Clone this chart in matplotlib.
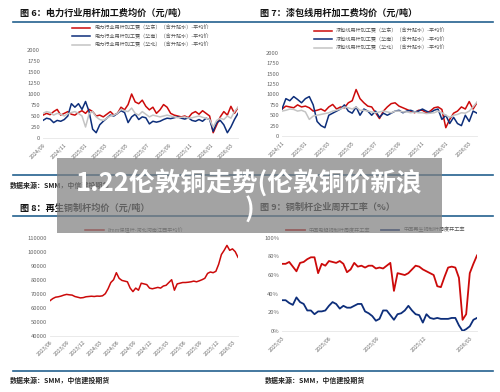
import numpy as np
import pandas as pd
import matplotlib
matplotlib.use("Agg")
import matplotlib.pyplot as plt
import matplotlib.dates as mdates
from matplotlib.ticker import FuncFormatter

plt.rcParams["font.family"] = ["Noto Sans CJK SC", "DejaVu Sans"]
plt.rcParams["axes.unicode_minus"] = False

RED = "#cc0a0a"
BLUE = "#0d2e7a"
GRAY = "#c4c4c4"
RULE = "#24618f"
TICK = "#666666"

# ---- data ----
# Fig 6: power industry rod processing fee (yuan/t), ~3 points per month
f6_east = [520, 560, 530, 600, 650, 520, 560, 600, 540, 520, 580, 620,
           560, 650, 600, 500, 520, 480, 540, 600, 520, 560, 700, 640,
           760, 1000, 820, 780, 860, 720, 640, 700, 560, 640, 760, 700,
           560, 520, 500, 480, 500, 460, 560, 600, 540, 620, 560, 500,
           120, 300, 480, 600, 520, 720, 560, 690]
f6_south = [400, 450, 430, 350, 400, 380, 420, 500, 780, 700, 780, 650,
            830, 600, 200, 120, 300, 380, 450, 520, 500, 560, 620, 580,
            350, 480, 540, 420, 480, 460, 320, 380, 360, 380, 420, 450,
            440, 460, 480, 450, 430, 460, 400, 380, 420, 380, 450, 420,
            150, 350, 400, 300, 120, 250, 420, 560]
f6_north = [560, 600, 580, 520, 560, 540, 500, 550, 580, 600, 560, 500,
            250, 550, 600, 480, 420, 400, 450, 500, 520, 560, 650, 620,
            600, 680, 560, 520, 600, 540, 480, 520, 500, 480, 500, 520,
            500, 480, 460, 470, 480, 450, 460, 480, 500, 470, 450, 420,
            250, 400, 450, 420, 500, 450, 600, 700]
f6_dates = pd.date_range("2024-09-01", "2026-03-20", periods=len(f6_east))

# Fig 7: enamelled wire rod processing fee (yuan/t)
f7_east = [650, 720, 700, 680, 750, 700, 720, 680, 600, 620, 650, 600,
           700, 760, 650, 700, 680, 800, 850, 1120, 900, 800, 720, 700,
           560, 420, 600, 700, 780, 800, 720, 680, 640, 600, 560, 620,
           620, 560, 600, 680, 700, 640, 200, 400, 550, 600, 700, 650,
           830, 650, 800]
f7_south = [650, 900, 850, 950, 880, 800, 900, 950, 750, 350, 250, 200,
            500, 550, 600, 650, 750, 600, 550, 700, 500, 650, 600, 500,
            600, 450, 550, 500, 550, 600, 620, 560, 600, 620, 580, 600,
            650, 600, 560, 620, 650, 400, 500, 300, 450, 300, 250, 500,
            350, 600, 550]
f7_north = [600, 620, 650, 640, 600, 620, 580, 400, 480, 500, 520, 540,
            560, 600, 620, 650, 700, 680, 650, 700, 620, 620, 600, 580,
            560, 580, 600, 580, 560, 600, 600, 580, 580, 560, 580, 560,
            560, 540, 550, 560, 600, 560, 500, 450, 500, 520, 560, 550,
            600, 700, 820]
f7_dates = pd.date_range("2024-11-01", "2026-03-22", periods=len(f7_east))

# Fig 8: recycled copper rod price (yuan/t), ~2 points per month
f8_price = [65000, 66500, 67500, 67800, 68300, 69000, 69500, 69200, 69000, 68000,
            67500, 67000, 67200, 67800, 68000, 68200, 68000, 68300, 68200, 68500,
            70000, 73500, 78000, 80000, 85000, 81000, 79500, 79000, 78500, 74000,
            71500, 74000, 72500, 77500, 77000, 76500, 74000, 73500, 74000, 74500,
            74000, 75500, 76000, 78000, 80000, 72500, 77000, 77500, 78000, 78000,
            78200, 78500, 79000, 78500, 79200, 80000, 81000, 84500, 85500, 85000,
            86000, 91000, 98000, 101000, 104500, 101000, 102000, 100000, 96000]
f8_dates = pd.date_range("2023-06-01", "2026-03-25", periods=len(f8_price))

# Fig 9: weekly operating rate of copper rod plants (%)
f9_electro = [72, 72, 74, 69, 64, 73, 74, 77, 79, 79, 62, 72, 70, 75, 74, 73, 75, 72,
              63, 66, 73, 69, 70, 68, 70, 70, 67, 68, 67, 70, 73, 43, 62, 61, 60, 62,
              66, 70, 69, 66, 64, 62, 60, 48, 47, 58, 68, 69, 68, 57, 12, 18, 62, 72, 81]
f9_recycled = [33, 33, 30, 28, 36, 31, 29, 22, 22, 18, 21, 21, 22, 27, 31, 29, 24, 27,
               25, 25, 27, 29, 29, 21, 19, 16, 11, 13, 22, 22, 17, 12, 18, 19, 22, 27,
               22, 18, 17, 9, 18, 14, 13, 14, 13, 13, 13, 14, 14, 6, 0, 2, 5, 12, 14]
f9_dates = pd.date_range("2025-03-01", periods=len(f9_electro), freq="7D")

f6_labels = ["电力行业用杆加工费（华东）（含升贴水）-平均价",
             "电力行业用杆加工费（华南）（含升贴水）-平均价",
             "电力行业用杆加工费（华北）（含升贴水）-平均价"]
f7_labels = ["漆包线用杆加工费（华东）（含升贴水）-平均价",
             "漆包线用杆加工费（华南）（含升贴水）-平均价",
             "漆包线用杆加工费（华北）（含升贴水）-平均价"]
f8_label = "8mm保阻杆-河北河南江西平均价"
f9_labels = ["中国电解铜制杆周度开工率", "中国再生铜制杆周度开工率"]

titles = ["图 6：电力行业用杆加工费均价（元/吨）",
          "图 7：漆包线用杆加工费均价（元/吨）",
          "图 8：再生铜制杆均价（元/吨）",
          "图 9：铜制杆企业周开工率（%）"]
source = "数据来源：SMM，中信建投期货"
headline = "1.22伦敦铜走势(伦敦铜价新浪\n)"

W, H = 500, 392
fig = plt.figure(figsize=(W / 100, H / 100), dpi=100)


def px_axes(x0, y0, x1, y1):
    # rect from pixel coords (top-left origin)
    return fig.add_axes([x0 / W, 1 - y1 / H, (x1 - x0) / W, (y1 - y0) / H])


def style(ax, months):
    for s in ["top", "right", "left"]:
        ax.spines[s].set_visible(False)
    ax.spines["bottom"].set_color("#e6e6e6")
    ax.spines["bottom"].set_linewidth(0.6)
    ax.tick_params(length=0, labelsize=4.2, colors=TICK, pad=2)
    ax.tick_params(axis="x", labelsize=3.8, pad=3)
    ax.xaxis.set_major_locator(mdates.MonthLocator(bymonth=months))
    ax.xaxis.set_major_formatter(mdates.DateFormatter("%Y/%m"))
    for lab in ax.get_xticklabels():
        lab.set_rotation(45)
        lab.set_ha("right")
        lab.set_rotation_mode("anchor")


def hline(y, x0, x1):
    fig.add_artist(plt.Line2D([x0 / W, x1 / W], [1 - y / H, 1 - y / H],
                              color=RULE, lw=1.2))


odd = [1, 3, 5, 7, 9, 11]
quarter = [3, 6, 9, 12]
lkw = dict(frameon=False, fontsize=3.7, handlelength=3.6, borderpad=0,
           labelcolor="#555555")

# Fig 6
ax6 = px_axes(43, 50, 238, 138)
ax6.plot(f6_dates, f6_east, color=RED, lw=1.1, label=f6_labels[0])
ax6.plot(f6_dates, f6_south, color=BLUE, lw=1.1, label=f6_labels[1])
ax6.plot(f6_dates, f6_north, color=GRAY, lw=1.1, label=f6_labels[2])
ax6.set_ylim(0, 2000)
ax6.set_yticks(np.arange(0, 2001, 250))
ax6.set_xlim(f6_dates[0], f6_dates[-1])
style(ax6, odd)
ax6.legend(loc="lower center", bbox_to_anchor=(0.5, 1.0), labelspacing=0.55, **lkw)

# Fig 7
ax7 = px_axes(282, 53, 477, 136)
ax7.plot(f7_dates, f7_east, color=RED, lw=1.1, label=f7_labels[0])
ax7.plot(f7_dates, f7_south, color=BLUE, lw=1.1, label=f7_labels[1])
ax7.plot(f7_dates, f7_north, color=GRAY, lw=1.1, label=f7_labels[2])
ax7.set_ylim(0, 2000)
ax7.set_yticks(np.arange(0, 2001, 250))
ax7.set_xlim(f7_dates[0], f7_dates[-1])
style(ax7, odd)
ax7.legend(loc="lower center", bbox_to_anchor=(0.5, 1.0), labelspacing=0.55, **lkw)

# Fig 8
ax8 = px_axes(50, 237.7, 238, 335.7)
ax8.plot(f8_dates, f8_price, color=RED, lw=1.1, label=f8_label)
ax8.set_ylim(40000, 110000)
ax8.set_yticks(np.arange(40000, 110001, 10000))
ax8.set_xlim(f8_dates[0], f8_dates[-1])
style(ax8, quarter)
ax8.legend(loc="lower center", bbox_to_anchor=(0.45, 1.02), **lkw)

# Fig 9
ax9 = px_axes(282, 237.7, 477, 331)
ax9.plot(f9_dates, f9_electro, color=RED, lw=1.3, label=f9_labels[0])
ax9.plot(f9_dates, f9_recycled, color=BLUE, lw=1.3, label=f9_labels[1])
ax9.set_ylim(0, 100)
ax9.set_yticks(np.arange(0, 101, 20))
ax9.yaxis.set_major_formatter(FuncFormatter(lambda v, p: f"{v:.0f}%"))
ax9.set_xlim(f9_dates[0], f9_dates[-1])
style(ax9, quarter)
ax9.legend(loc="lower center", bbox_to_anchor=(0.48, 1.03), ncol=2,
           columnspacing=2.0, **lkw)

# titles, rules and source notes
tkw = dict(fontsize=6.6, fontweight="bold", va="center", ha="left", color="#111111")
fig.text(20 / W, 1 - 13 / H, titles[0], **tkw)
fig.text(260 / W, 1 - 13 / H, titles[1], **tkw)
fig.text(20 / W, 1 - 208 / H, titles[2], **tkw)
fig.text(260 / W, 1 - 207 / H, titles[3], **tkw)

hline(21.5, 13, 493)
hline(215.5, 13, 493)
hline(175, 13, 493)
hline(371, 13, 493)

skw = dict(fontsize=5, fontweight="bold", fontstyle="italic", va="center",
           ha="left", color="#222222")
fig.text(10 / W, 1 - 185 / H, source, **skw)
fig.text(10 / W, 1 - 380 / H, source, **skw)
fig.text(265 / W, 1 - 380 / H, source, **skw)

# overlay banner
fig.add_artist(plt.Rectangle((57 / W, 1 - 233 / H), (442 - 57) / W, (233 - 158) / H,
                             facecolor="#808080", alpha=0.72, edgecolor="none",
                             zorder=10))
fig.text(249.5 / W, 1 - 196 / H, headline, fontsize=18.5, fontweight="bold",
         color="white", ha="center", va="center", linespacing=1.0, zorder=11)

fig.savefig("out.png", dpi=100)
